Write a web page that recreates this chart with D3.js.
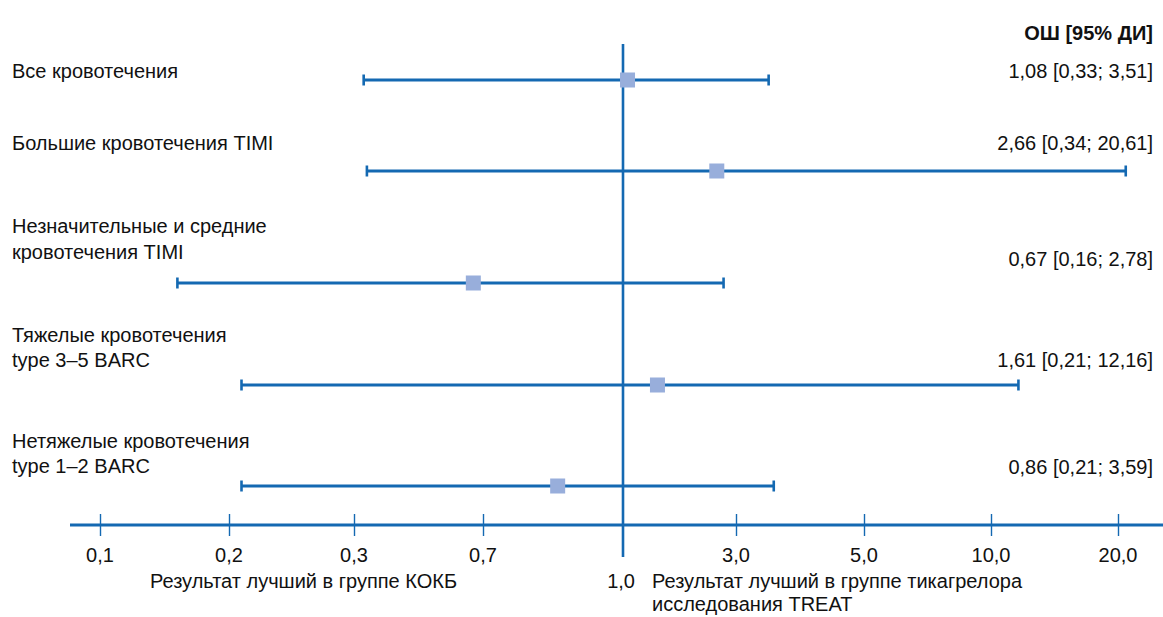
<!DOCTYPE html>
<html><head><meta charset="utf-8">
<script src="https://cdn.jsdelivr.net/npm/d3@7"></script>
<style>
html,body{margin:0;padding:0;background:#fff;}
svg{display:block;font-family:"Liberation Sans",Arial,Helvetica,sans-serif;}
</style></head>
<body>
<svg id="chart" width="1163" height="617"></svg>
<script>
// ---- data ----
const categories = [
  ["Все кровотечения"],
  ["Большие кровотечения TIMI"],
  ["Незначительные и средние", "кровотечения TIMI"],
  ["Тяжелые кровотечения", "type 3–5 BARC"],
  ["Нетяжелые кровотечения", "type 1–2 BARC"]
];
const oddsRatio = [1.08, 2.66, 0.67, 1.61, 0.86];
const ciLow     = [0.33, 0.34, 0.16, 0.21, 0.21];
const ciHigh    = [3.51, 20.61, 2.78, 12.16, 3.59];
const tickValues = [0.1, 0.2, 0.3, 0.7, 1.0, 3.0, 5.0, 10.0, 20.0];
const tickLabels = ["0,1", "0,2", "0,3", "0,7", "1,0", "3,0", "5,0", "10,0", "20,0"];
const headerText = "ОШ [95% ДИ]";
const leftNote = ["Результат лучший в группе КОКБ"];
const rightNote = ["Результат лучший в группе тикагрелора", "исследования TREAT"];

// ---- layout ----
const W = 1163, H = 617;
const tickPos = [100, 229, 354, 483, 623, 736, 864, 991, 1118];
const rowY = [80, 171, 283, 385, 486];         // CI line positions
const labelY = [[78], [150], [233, 259], [342, 367], [448, 473]]; // label baselines
const valueY = [78, 150, 266, 367, 474];
const axisY = 525;
const lineColor = "#1469b2";
const squareColor = "#98aedb";
const textColor = "#111";
const fontSize = 20;

const x = d3.scaleLinear().domain(tickValues).range(tickPos);
const fmt = d3.formatLocale({decimal: ",", thousands: " ", grouping: [3], currency: ["", ""]}).format(".2f");

const svg = d3.select("#chart");

// header
svg.append("text").attr("x", 1153).attr("y", 40)
  .attr("text-anchor", "end").attr("font-size", fontSize).attr("font-weight", "bold")
  .attr("fill", textColor).text(headerText);

// center line at 1.0
svg.append("line").attr("x1", x(1)).attr("x2", x(1)).attr("y1", 44).attr("y2", 557)
  .attr("stroke", lineColor).attr("stroke-width", 2.6);

// axis
const axis = d3.axisBottom(x).tickValues(tickValues.filter(v => v !== 1)).tickSize(0).tickFormat("");
const gAxis = svg.append("g").attr("transform", `translate(0,${axisY})`).call(axis);
gAxis.select(".domain").remove();
gAxis.append("line").attr("x1", 70).attr("x2", W).attr("y1", 0).attr("y2", 0)
  .attr("stroke", lineColor).attr("stroke-width", 3);
gAxis.selectAll(".tick").append("line").attr("y1", -11).attr("y2", 11)
  .attr("stroke", lineColor).attr("stroke-width", 1.4);

// tick labels
svg.append("g").selectAll("text").data(tickValues.map((v, i) => ({v, l: tickLabels[i]})).filter(d => d.v !== 1))
  .join("text").attr("x", d => x(d.v)).attr("y", 562)
  .attr("text-anchor", "middle").attr("font-size", fontSize).attr("fill", textColor).text(d => d.l);

// 1,0 label and notes
svg.append("text").attr("x", x(1) + 12).attr("y", 588).attr("text-anchor", "end")
  .attr("font-size", fontSize).attr("fill", textColor).text(tickLabels[tickValues.indexOf(1)]);
svg.append("text").attr("x", 150).attr("y", 588).attr("font-size", fontSize).attr("fill", textColor).text(leftNote[0]);
svg.append("g").selectAll("text").data(rightNote).join("text")
  .attr("x", x(1) + 29).attr("y", (d, i) => 588 + i * 23)
  .attr("font-size", fontSize).attr("fill", textColor).text(d => d);

// rows
const rows = categories.map((c, i) => ({c, or: oddsRatio[i], lo: ciLow[i], hi: ciHigh[i], i}));
const g = svg.append("g");

rows.forEach(r => {
  r.c.forEach((line, j) => {
    g.append("text").attr("x", 12).attr("y", labelY[r.i][j]).attr("font-size", fontSize)
      .attr("fill", textColor).text(line);
  });
  g.append("text").attr("x", 1153).attr("y", valueY[r.i]).attr("text-anchor", "end")
    .attr("font-size", fontSize).attr("fill", textColor)
    .text(`${fmt(r.or)} [${fmt(r.lo)}; ${fmt(r.hi)}]`);
});

// CI lines
g.selectAll(".ci").data(rows).join("line").attr("class", "ci")
  .attr("x1", d => x(d.lo)).attr("x2", d => x(d.hi))
  .attr("y1", d => rowY[d.i]).attr("y2", d => rowY[d.i])
  .attr("stroke", lineColor).attr("stroke-width", 3);
["lo", "hi"].forEach(k => {
  g.selectAll(".cap-" + k).data(rows).join("line").attr("class", "cap-" + k)
    .attr("x1", d => x(d[k])).attr("x2", d => x(d[k]))
    .attr("y1", d => rowY[d.i] - 5.5).attr("y2", d => rowY[d.i] + 5.5)
    .attr("stroke", lineColor).attr("stroke-width", 2.6);
});
const sq = 15;
g.selectAll(".pt").data(rows).join("rect").attr("class", "pt")
  .attr("x", d => x(d.or) - sq / 2).attr("y", d => rowY[d.i] - sq / 2)
  .attr("width", sq).attr("height", sq).attr("fill", squareColor);
</script>
</body></html>
